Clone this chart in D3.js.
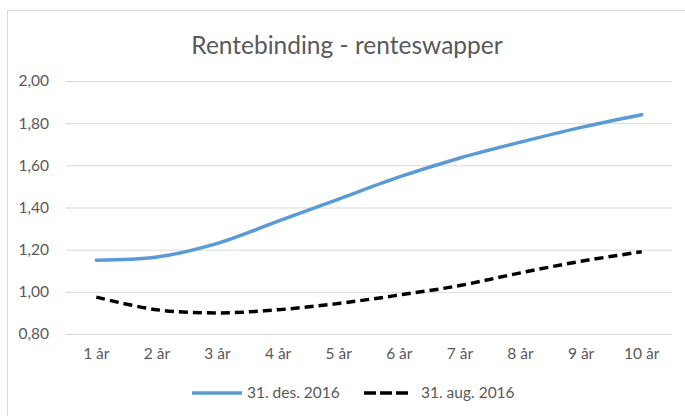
<!DOCTYPE html>
<html>
<head>
<meta charset="utf-8">
<script src="https://cdn.jsdelivr.net/npm/d3@7"></script>
<style>
  body { margin: 0; background: #fff; }
  text { font-family: Lato, "Open Sans", sans-serif; fill: #595959; }
</style>
</head>
<body>
<svg id="chart"></svg>
<script>
// data
const categories = ["1 år", "2 år", "3 år", "4 år", "5 år", "6 år", "7 år", "8 år", "9 år", "10 år"];
const des2016 = [1.15, 1.165, 1.23, 1.335, 1.44, 1.545, 1.635, 1.71, 1.78, 1.84];
const aug2016 = [0.975, 0.915, 0.9, 0.915, 0.945, 0.985, 1.03, 1.09, 1.145, 1.19];
const yTicks = [0.8, 1.0, 1.2, 1.4, 1.6, 1.8, 2.0];

const W = 685, H = 416;
const margin = {top: 81, right: 13, bottom: 82, left: 66};
const width = W - margin.left - margin.right,
  height = H - margin.top - margin.bottom;

const svg = d3.select("#chart")
  .attr("width", W)
  .attr("height", H);

// chart frame, cut off at right/bottom like the original
svg.append("rect")
  .attr("x", 7.5).attr("y", 10.5)
  .attr("width", W + 20).attr("height", H + 20)
  .style("fill", "none")
  .style("stroke", "#d9d9d9");

svg.append("text")
  .attr("x", 347).attr("y", 54)
  .attr("text-anchor", "middle")
  .style("font-size", "24.5px")
  .text("Rentebinding - renteswapper");

const g = svg.append("g")
  .attr("transform", "translate(" + margin.left + "," + margin.top + ")");

const x = d3.scaleBand().domain(categories).range([0, width]);
const y = d3.scaleLinear().domain([0.8, 2.0]).range([height, 0]);

const fmt = d => d3.format(".2f")(d).replace(".", ",");

// gridlines + y labels
const yAxis = g.append("g")
  .call(d3.axisLeft(y).tickValues(yTicks).tickSize(-width).tickFormat(fmt).tickPadding(17));
yAxis.select(".domain").remove();
yAxis.selectAll(".tick line").style("stroke", "#d9d9d9");
yAxis.selectAll(".tick text").style("font-size", "15.5px").style("fill", "#595959");

const xAxis = g.append("g")
  .attr("transform", "translate(0," + height + ")")
  .call(d3.axisBottom(x).tickSize(0).tickPadding(14));
xAxis.select(".domain").remove();
xAxis.selectAll(".tick text").style("font-size", "15.5px").style("fill", "#595959");

const line = d3.line()
  .x((d, i) => x(categories[i]) + x.bandwidth() / 2)
  .y(d => y(d))
  .curve(d3.curveCatmullRom);

g.append("path")
  .datum(des2016)
  .style("fill", "none")
  .style("stroke", "#5b9bd5")
  .style("stroke-width", "3.5px")
  .style("stroke-linecap", "round")
  .attr("d", line);

g.append("path")
  .datum(aug2016)
  .style("fill", "none")
  .style("stroke", "#000")
  .style("stroke-width", "3.5px")
  .style("stroke-dasharray", "9,5")
  .attr("d", line);

// legend
const legend = svg.append("g").attr("transform", "translate(0,393)");
legend.append("line")
  .attr("x1", 192).attr("x2", 242)
  .style("stroke", "#5b9bd5").style("stroke-width", "3.5px");
legend.append("text")
  .attr("x", 247).attr("dy", "0.35em")
  .style("font-size", "15.5px")
  .text("31. des. 2016");
legend.append("line")
  .attr("x1", 364).attr("x2", 410)
  .style("stroke", "#000").style("stroke-width", "3.5px")
  .style("stroke-dasharray", "12,4").style("stroke-linecap", "butt");
legend.append("text")
  .attr("x", 421).attr("dy", "0.35em")
  .style("font-size", "15.5px")
  .text("31. aug. 2016");
</script>
</body>
</html>
